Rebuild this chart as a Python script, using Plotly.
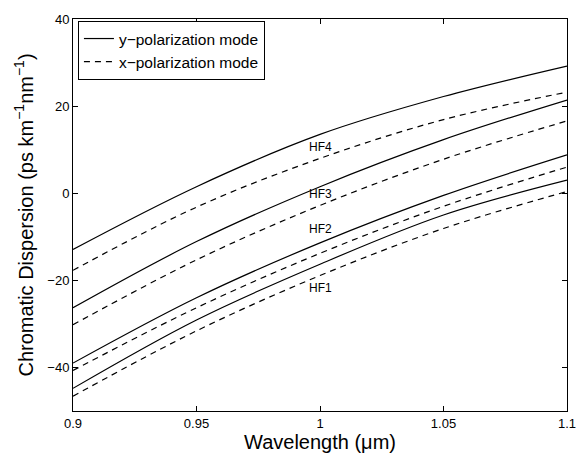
import plotly.graph_objects as go

wavelength = [0.9, 0.95, 1.0, 1.05, 1.1]

y_pol = {
    "HF4": [-12.9, 1.5, 13.5, 22.2, 29.2],
    "HF3": [-26.3, -11.1, 1.5, 12.3, 21.4],
    "HF2": [-39.0, -24.0, -11.4, -0.5, 8.8],
    "HF1": [-44.8, -29.1, -16.3, -5.0, 3.0],
}
x_pol = {
    "HF4": [-17.7, -3.2, 8.0, 16.9, 23.2],
    "HF3": [-30.2, -15.3, -2.8, 7.8, 16.6],
    "HF2": [-40.7, -26.3, -13.8, -3.0, 6.0],
    "HF1": [-46.6, -31.6, -18.9, -8.1, 0.4],
}

label_names = ["HF4", "HF3", "HF2", "HF1"]
label_x = [1.0, 1.0, 1.0, 1.0]
label_y = [10.7, -0.2, -8.2, -21.8]

x_ticks = [0.9, 0.95, 1.0, 1.05, 1.1]
x_ticktext = ["0.9", "0.95", "1", "1.05", "1.1"]
y_ticks = [-40, -20, 0, 20, 40]
y_ticktext = ["\u221240", "\u221220", "0", "20", "40"]

FONT = "Liberation Sans, Arial, Helvetica, sans-serif"

fig = go.Figure()
first = True
for name in label_names:
    fig.add_trace(go.Scatter(
        x=wavelength, y=y_pol[name], mode="lines", line_shape="spline",
        line=dict(color="black", width=1.2),
        name="y\u2212polarization mode", legendgroup="y", showlegend=first))
    first = False
first = True
for name in label_names:
    fig.add_trace(go.Scatter(
        x=wavelength, y=x_pol[name], mode="lines", line_shape="spline",
        line=dict(color="black", width=1.2, dash="6px,5px"),
        name="x\u2212polarization mode", legendgroup="x", showlegend=first))
    first = False

for n, lx, ly in zip(label_names, label_x, label_y):
    fig.add_annotation(x=lx, y=ly, text=n, showarrow=False,
                       font=dict(family=FONT, size=12, color="black"))

axis_common = dict(showline=True, linecolor="black", linewidth=1, mirror="ticks",
                   ticks="inside", ticklen=5, tickcolor="black", showgrid=False,
                   zeroline=False, ticklabeloverflow="allow",
                   tickfont=dict(family=FONT, size=13, color="black"))

fig.update_xaxes(range=[0.9, 1.1], tickvals=x_ticks, ticktext=x_ticktext,
                 title=dict(text="Wavelength (\u03bcm)", font=dict(family=FONT, size=20, color="black"),
                            standoff=2),
                 **axis_common)
fig.update_yaxes(range=[-50, 40], tickvals=y_ticks, ticktext=y_ticktext,
                 title=dict(text="Chromatic Dispersion (ps km<sup>\u22121</sup>nm<sup>\u22121</sup>)",
                            font=dict(family=FONT, size=20, color="black"), standoff=8),
                 **axis_common)

fig.update_layout(
    width=588, height=459,
    margin=dict(l=73, r=17, t=14, b=48),
    paper_bgcolor="white", plot_bgcolor="white",
    font=dict(family=FONT, color="black"),
    legend=dict(x=0.01, y=0.995, xanchor="left", yanchor="top",
                bordercolor="black", borderwidth=1, bgcolor="white",
                font=dict(family=FONT, size=15.5, color="black"),
                tracegroupgap=0, itemwidth=30),
)

fig.write_html("out.html", config={"displayModeBar": False},
               post_script="document.body.style.margin='0';document.body.style.overflow='hidden';")
